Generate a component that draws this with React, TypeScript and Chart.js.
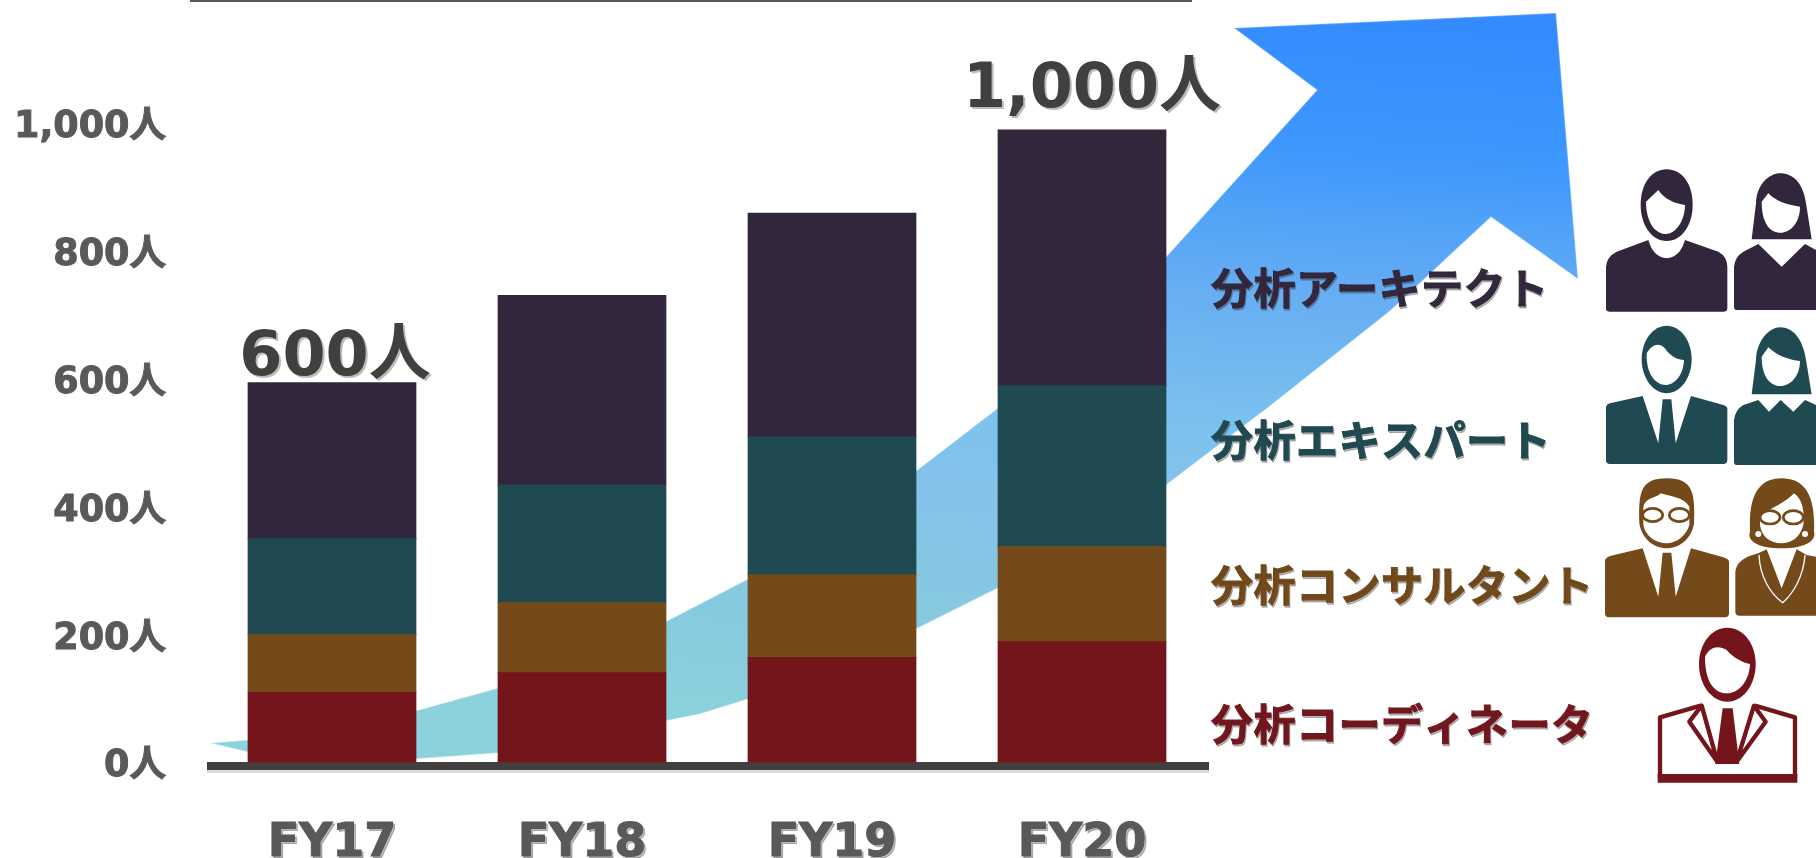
import { useEffect, useRef } from "react";
import { Chart, registerables } from "chart.js";

Chart.register(...registerables);

const fiscalYears = ["FY17", "FY18", "FY19", "FY20"];
const coordinators = [110, 141, 165, 190];
const consultants = [91, 111, 131, 151];
const experts = [152, 186, 218, 254];
const architects = [247, 300, 354, 405];
const axisTicks = [0, 200, 400, 600, 800, 1000];
const statedTotals = [600, null, null, 1000];

const roleNames = ["分析コーディネータ", "分析コンサルタント", "分析エキスパート", "分析アーキテクト"];
const roleColors = ["#74151C", "#744A1A", "#1F4A52", "#32263C"];
const roleRowY = [724, 585, 440, 288];

const FONT = '"DejaVu Sans", "Noto Sans CJK JP", sans-serif';
const personCount = (v: number) => v.toLocaleString("en-US") + "人";

// Growth arrow outline, head first, then the lower edge, the tail, and the upper edge.
const arrowOutline = [
  [1234, 28], [1556, 13], [1578, 279], [1491, 217], [1390, 311], [1270, 406], [1166, 485],
  [998, 588], [916, 629], [748, 699], [700, 714], [665, 721], [498, 753], [415, 759],
  [330, 758], [248, 752], [210, 743], [248, 740], [415, 711], [498, 688], [665, 622],
  [748, 579], [916, 471], [998, 408], [1166, 257], [1317, 90],
];
const arrowStops: [number, string][] = [
  [0, "#338BFF"], [0.18, "#3E97FC"], [0.38, "#67AEF3"], [0.57, "#7CC2EE"],
  [0.68, "#85C2EA"], [0.85, "#86CADF"], [1, "#8CD2DC"],
];

function setShadow(ctx: CanvasRenderingContext2D, color: string, dx: number, dy: number) {
  ctx.shadowColor = color;
  ctx.shadowOffsetX = dx;
  ctx.shadowOffsetY = dy;
  ctx.shadowBlur = 0;
}
const textShadow = (ctx: CanvasRenderingContext2D) => setShadow(ctx, "rgba(60,60,60,0.35)", 2, 2);
const noShadow = (ctx: CanvasRenderingContext2D) => setShadow(ctx, "rgba(0,0,0,0)", 0, 0);

function fillPath(ctx: CanvasRenderingContext2D, d: string, color: string) {
  ctx.fillStyle = color;
  ctx.fill(new Path2D(d));
}

function glasses(ctx: CanvasRenderingContext2D, color: string, lx: number, rx: number, y: number) {
  ctx.strokeStyle = color;
  ctx.lineWidth = 8;
  for (const cx of [lx, rx]) {
    ctx.beginPath();
    ctx.ellipse(cx, y, 30, 20, 0, 0, Math.PI * 2);
    ctx.stroke();
  }
}

// People pictograms, one group per role, drawn in a 3x local grid.
function drawPeople(ctx: CanvasRenderingContext2D) {
  const [red, brown, teal, purple] = roleColors;
  ctx.save();
  ctx.translate(1590, 160);
  ctx.scale(1 / 3, 1 / 3);

  fillPath(ctx, "M152 135 C152 70 185 28 230 28 C275 28 308 70 308 135 C308 195 275 243 230 243 C185 243 152 195 152 135 Z", purple);
  fillPath(ctx, "M168 125 L205 90 C225 120 255 130 285 135 C285 185 255 222 228 222 C195 222 168 185 168 125 Z", "#fff");
  fillPath(ctx, "M48 445 L48 320 Q50 290 80 275 L175 240 Q190 292 230 295 Q270 292 285 240 L385 275 Q412 290 412 320 L412 445 Q412 455 402 455 L58 455 Q48 455 48 445 Z", purple);
  fillPath(ctx, "M485 238 L498 130 C500 70 540 40 570 40 C610 40 640 70 648 130 L665 238 Z", purple);
  fillPath(ctx, "M515 125 L535 100 C565 130 600 135 630 140 C630 190 600 218 572 218 C540 218 515 190 515 125 Z", "#fff");
  fillPath(ctx, "M432 440 L432 320 Q435 290 460 275 L505 252 L575 320 L645 252 L678 270 L678 450 L442 450 Q432 450 432 440 Z", purple);

  fillPath(ctx, "M155 598 C155 540 190 497 230 497 C270 497 305 540 305 598 C305 655 270 700 230 700 C190 700 155 655 155 598 Z", teal);
  fillPath(ctx, "M170 580 C185 555 205 545 225 565 C240 590 265 600 282 600 C280 650 250 675 228 675 C195 675 168 640 170 580 Z", "#fff");
  fillPath(ctx, "M48 740 Q50 732 60 730 L158 708 L205 850 L218 718 L244 718 L257 850 L303 708 L400 735 Q412 740 412 745 L412 900 Q412 912 400 912 L60 912 Q48 912 48 900 Z", teal);
  fillPath(ctx, "M485 703 L498 600 C500 540 540 502 570 502 C610 502 640 540 648 600 L665 703 Z", teal);
  fillPath(ctx, "M515 590 L535 562 C565 590 600 600 630 603 C630 650 600 678 572 678 C540 678 515 650 515 590 Z", "#fff");
  fillPath(ctx, "M432 905 L432 780 Q435 750 460 735 L505 720 L537 755 L572 720 L610 755 L645 720 L678 735 L678 915 L442 915 Q432 915 432 905 Z", teal);
  ctx.restore();

  ctx.save();
  ctx.translate(1590, 460);
  ctx.scale(1 / 3, 1 / 3);

  fillPath(ctx, "M148 190 C145 100 150 55 230 55 C310 55 315 100 312 190 C305 235 270 265 230 265 C190 265 155 235 148 190 Z", brown);
  fillPath(ctx, "M160 140 C170 110 200 115 212 100 C240 110 280 110 298 140 L298 195 C290 225 260 250 230 250 C195 250 165 225 160 195 Z", "#fff");
  glasses(ctx, brown, 188, 268, 165);
  fillPath(ctx, "M45 300 Q48 292 60 288 L158 265 L205 410 L218 278 L244 278 L257 410 L303 265 L400 292 Q417 298 417 305 L417 460 Q417 472 405 472 L57 472 Q45 472 45 460 Z", brown);

  fillPath(ctx, "M480 215 C475 100 510 55 575 55 C640 55 677 100 672 215 C680 240 650 265 575 265 C500 265 470 240 480 215 Z", brown);
  fillPath(ctx, "M510 165 C545 145 590 125 612 100 C635 115 645 150 640 195 C630 235 600 250 575 250 C540 250 515 230 510 195 Z", "#fff");
  glasses(ctx, brown, 540, 610, 172);
  ctx.fillStyle = "#fff";
  for (const cx of [505, 645]) {
    ctx.beginPath();
    ctx.arc(cx, 222, 9, 0, Math.PI * 2);
    ctx.fill();
  }
  fillPath(ctx, "M436 455 L436 335 Q440 295 505 280 L530 268 L575 385 L620 268 L650 285 L678 290 L678 467 L448 467 Q436 467 436 455 Z", brown);
  ctx.strokeStyle = "#fff";
  ctx.lineWidth = 4;
  ctx.stroke(new Path2D("M507 285 C510 350 540 400 578 428 C610 400 640 350 645 285"));

  fillPath(ctx, "M327 612 C327 550 365 503 412 503 C459 503 497 550 497 612 C497 675 459 725 412 725 C365 725 327 675 327 612 Z", red);
  fillPath(ctx, "M345 590 C360 560 385 555 410 570 C430 595 465 610 480 612 C478 670 440 700 412 700 C375 700 345 670 345 590 Z", "#fff");
  ctx.strokeStyle = red;
  ctx.lineJoin = "round";
  ctx.lineWidth = 13;
  ctx.stroke(new Path2D("M332 737 L210 772 L210 955 L615 955 L615 772 L495 737"));
  ctx.stroke(new Path2D("M335 737 L382 905 L298 785 Z"));
  ctx.stroke(new Path2D("M492 737 L440 905 L527 785 Z"));
  fillPath(ctx, "M398 745 L428 745 L448 912 L376 912 Z", red);
  fillPath(ctx, "M203 942 L622 942 L622 968 L203 968 Z", red);
  ctx.restore();
}

// Z-ordered drawing around the bars: arrow and baseline behind them, annotations on top.
const decorations = {
  id: "decorations",
  beforeDatasetsDraw(chart: Chart) {
    const ctx = chart.ctx;
    const gradient = ctx.createLinearGradient(1390, 18, 1340, 760);
    arrowStops.forEach(([t, c]) => gradient.addColorStop(t, c));
    ctx.save();
    ctx.fillStyle = gradient;
    ctx.beginPath();
    arrowOutline.forEach(([x, y], i) => (i ? ctx.lineTo(x, y) : ctx.moveTo(x, y)));
    ctx.closePath();
    ctx.fill();
    ctx.strokeStyle = "rgba(255,255,255,0.3)";
    ctx.lineWidth = 1.5;
    ctx.stroke();

    const { left, right } = chart.chartArea;
    const zeroY = chart.scales.y.getPixelForValue(0);
    ctx.fillStyle = "#404040";
    setShadow(ctx, "#d9d9d9", 0, 3);
    ctx.fillRect(left, zeroY, right - left + 2, 8);
    ctx.restore();
  },
  afterDraw(chart: Chart) {
    const ctx = chart.ctx;
    const x = chart.scales.x;
    const y = chart.scales.y;
    ctx.save();
    ctx.fillStyle = "#595959";
    ctx.fillRect(190, 0, 1002, 2);

    textShadow(ctx);
    ctx.textBaseline = "alphabetic";
    ctx.textAlign = "center";
    ctx.font = `bold 62px ${FONT}`;
    ctx.fillStyle = "#404040";
    const nudgeX = [3, 0, 0, 10];
    const lift = [8, 0, 0, 23];
    statedTotals.forEach((total, i) => {
      if (total === null) return;
      ctx.fillText(personCount(total), x.getPixelForValue(i) + nudgeX[i], y.getPixelForValue(total) - lift[i]);
    });

    ctx.textAlign = "left";
    ctx.textBaseline = "middle";
    ctx.font = `bold 42px "Noto Sans CJK JP", sans-serif`;
    ctx.letterSpacing = "0.5px";
    ctx.lineWidth = 1;
    roleNames.forEach((name, i) => {
      ctx.fillStyle = roleColors[i];
      ctx.strokeStyle = roleColors[i];
      setShadow(ctx, "rgba(60,60,60,0.35)", 1, 2);
      ctx.fillText(name, 1211, roleRowY[i]);
      ctx.strokeText(name, 1211, roleRowY[i]);
    });
    noShadow(ctx);
    drawPeople(ctx);
    ctx.restore();
  },
};

export default function App() {
  const canvasRef = useRef<HTMLCanvasElement>(null);

  useEffect(() => {
    const seriesValues = [coordinators, consultants, experts, architects];
    const chart = new Chart(canvasRef.current!, {
      type: "bar",
      data: {
        labels: fiscalYears,
        datasets: roleNames.map((name, i) => ({
          label: name,
          data: seriesValues[i],
          backgroundColor: roleColors[i],
          yAxisID: "y",
          barPercentage: 0.67,
          categoryPercentage: 1,
          inflateAmount: 0.6,
        })),
      },
      options: {
        animation: false,
        responsive: false,
        devicePixelRatio: 1,
        layout: { padding: { top: 2, right: 609, left: 0, bottom: 0 } },
        plugins: { legend: { display: false }, tooltip: { enabled: false } },
        scales: {
          x: {
            stacked: true,
            afterFit: (scale: any) => {
              scale.height = 88;
              scale.paddingLeft = 0;
              scale.paddingRight = 0;
            },
            // The year labels carry a soft drop shadow; the other axis does not.
            afterUpdate: (scale: any) => {
              const drawLabels = scale.drawLabels;
              scale.drawLabels = function (area: any) {
                scale.ctx.save();
                textShadow(scale.ctx);
                drawLabels.call(scale, area);
                scale.ctx.restore();
              };
            },
            grid: { display: false, drawTicks: false },
            border: { display: false },
            ticks: {
              color: "#595959",
              padding: 46,
              autoSkip: false,
              maxRotation: 0,
              textStrokeColor: "#595959",
              textStrokeWidth: 1,
              font: { family: FONT, size: 46, weight: "bold" },
            },
          },
          y: { stacked: true, display: false, min: -12.66, max: 1202.5 },
          axisLabels: {
            position: "left",
            min: -4.69,
            max: 1197.2,
            afterFit: (scale: any) => {
              scale.width = 207;
              scale.paddingTop = 0;
              scale.paddingBottom = 0;
            },
            afterBuildTicks: (scale: any) => { scale.ticks = axisTicks.map((value) => ({ value })); },
            grid: { display: false, drawTicks: false },
            border: { display: false },
            ticks: {
              color: "#595959",
              padding: 41,
              autoSkip: false,
              textStrokeColor: "#595959",
              textStrokeWidth: 1,
              callback: (v: any) => personCount(Number(v)),
              font: { family: FONT, size: 36.5, weight: "bold" },
            },
          },
        },
      },
      plugins: [decorations],
    } as any);
    return () => chart.destroy();
  }, []);

  return (
    <div style={{ position: "fixed", left: 0, top: 0, width: 1816, height: 858, background: "#fff", overflow: "hidden" }}>
      <canvas ref={canvasRef} width={1816} height={858} style={{ display: "block" }} />
    </div>
  );
}
